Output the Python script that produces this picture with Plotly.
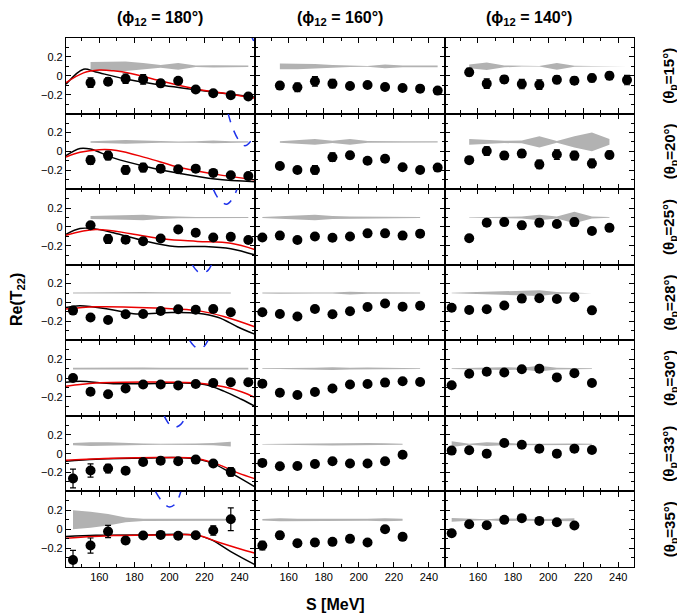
import plotly.graph_objects as go
from plotly.subplots import make_subplots

# energies S [MeV] used by the panels
s_155_245 = [155, 165, 175, 185, 195, 205, 215, 225, 235, 245]
s_145_235 = [145, 155, 165, 175, 185, 195, 205, 215, 225, 235]
s_145_245 = [145, 155, 165, 175, 185, 195, 205, 215, 225, 235, 245]
s_145_225 = [145, 155, 165, 175, 185, 195, 205, 215, 225]
s_155_235 = [155, 165, 175, 185, 195, 205, 215, 225, 235]
s_145_215 = [145, 155, 165, 175, 185, 195, 205, 215]

phi_12 = [180, 160, 140]
theta_p = [15, 20, 25, 28, 30, 33, 35]
band_center = 0.1

# ---- phi12 = 180 ----
s_180 = [s_155_245, s_155_245, s_155_245, s_145_235, s_145_245, s_145_235, s_145_235]
re_180 = [
    [-0.073, -0.063, -0.031, -0.038, -0.08, -0.052, -0.146, -0.184, -0.205, -0.219],
    [-0.093, -0.045, -0.197, -0.172, -0.183, -0.19, -0.183, -0.228, -0.252, -0.262],
    [0.017, -0.129, -0.135, -0.152, -0.122, -0.027, -0.061, -0.112, -0.105, -0.139],
    [-0.086, -0.159, -0.186, -0.124, -0.121, -0.09, -0.072, -0.076, -0.069, -0.103],
    [0.0, -0.145, -0.172, -0.11, -0.069, -0.069, -0.079, -0.062, -0.052, -0.045, -0.045],
    [-0.263, -0.179, -0.158, -0.182, -0.088, -0.074, -0.081, -0.063, -0.105, -0.193],
    [-0.325, -0.173, -0.025, -0.12, -0.067, -0.06, -0.07, -0.064, -0.014, 0.106],
]
err_180 = [
    [0.05, 0.04, 0.05, 0.05, 0.035, 0.02, 0.02, 0.02, 0.02, 0.02],
    [0.045, 0.045, 0.045, 0.045, 0.04, 0.02, 0.02, 0.02, 0.02, 0.02],
    [0.025, 0.045, 0.04, 0.03, 0.03, 0.02, 0.02, 0.02, 0.02, 0.02],
    [0.035, 0.03, 0.03, 0.02, 0.02, 0.02, 0.02, 0.02, 0.02, 0.02],
    [0.035, 0.025, 0.02, 0.02, 0.02, 0.02, 0.02, 0.02, 0.02, 0.02, 0.02],
    [0.1, 0.07, 0.045, 0.02, 0.02, 0.02, 0.02, 0.02, 0.02, 0.045],
    [0.1, 0.08, 0.065, 0.035, 0.02, 0.02, 0.02, 0.02, 0.05, 0.12],
]
band_180 = [
    [0.045, 0.05, 0.05, 0.035, 0.015, 0.035, 0.008, 0.012, 0.012, 0.008],
    [0.008, 0.015, 0.02, 0.015, 0.008, 0.005, 0.008, 0.015, 0.008, 0.006],
    [0.015, 0.02, 0.025, 0.03, 0.015, 0.008, 0.006, 0.006, 0.006, 0.006],
    [0.005, 0.008, 0.006, 0.008, 0.012, 0.008, 0.006, 0.005, 0.005, 0.005],
    [0.008, 0.01, 0.01, 0.01, 0.012, 0.01, 0.008, 0.008, 0.008, 0.008, 0.008],
    [0.012, 0.02, 0.02, 0.012, 0.008, 0.006, 0.004, 0.008, 0.012, 0.025],
    [0.1, 0.085, 0.06, 0.025, 0.012, 0.012, 0.015, 0.012, 0.01, 0.01],
]

# ---- phi12 = 160 ----
s_160 = [s_155_245, s_155_245, s_145_235, s_145_235, s_145_235, s_145_225, s_145_225]
re_160 = [
    [-0.104, -0.122, -0.059, -0.083, -0.108, -0.097, -0.118, -0.129, -0.136, -0.157],
    [-0.155, -0.197, -0.197, -0.062, -0.041, -0.1, -0.079, -0.169, -0.197, -0.172],
    [-0.112, -0.092, -0.139, -0.102, -0.115, -0.102, -0.068, -0.068, -0.092, -0.071],
    [-0.103, -0.121, -0.148, -0.069, -0.124, -0.093, -0.048, -0.01, -0.045, -0.034],
    [-0.059, -0.155, -0.179, -0.148, -0.11, -0.069, -0.062, -0.048, -0.034, -0.041],
    [-0.098, -0.133, -0.13, -0.109, -0.081, -0.105, -0.105, -0.081, -0.011],
    [-0.173, -0.064, -0.148, -0.141, -0.134, -0.102, -0.141, 0.0, -0.081],
]
err_160 = [
    [0.035, 0.045, 0.05, 0.045, 0.035, 0.02, 0.02, 0.02, 0.02, 0.02],
    [0.035, 0.03, 0.045, 0.045, 0.035, 0.03, 0.02, 0.02, 0.02, 0.02],
    [0.025, 0.02, 0.025, 0.025, 0.02, 0.02, 0.02, 0.02, 0.02, 0.02],
    [0.02, 0.02, 0.02, 0.02, 0.02, 0.02, 0.02, 0.02, 0.02, 0.02],
    [0.02, 0.02, 0.02, 0.02, 0.02, 0.02, 0.02, 0.02, 0.02, 0.02],
    [0.035, 0.03, 0.02, 0.02, 0.02, 0.02, 0.02, 0.02, 0.02],
    [0.045, 0.04, 0.035, 0.035, 0.02, 0.02, 0.02, 0.02, 0.035],
]
band_160 = [
    [0.03, 0.03, 0.025, 0.015, 0.008, 0.004, 0.02, 0.01, 0.01, 0.01],
    [0.008, 0.015, 0.03, 0.012, 0.03, 0.01, 0.006, 0.006, 0.006, 0.006],
    [0.005, 0.01, 0.02, 0.03, 0.015, 0.01, 0.008, 0.008, 0.006, 0.005],
    [0.006, 0.008, 0.01, 0.006, 0.005, 0.015, 0.008, 0.006, 0.005, 0.005],
    [0.005, 0.005, 0.006, 0.01, 0.015, 0.008, 0.012, 0.008, 0.005, 0.005],
    [0.003, 0.005, 0.008, 0.012, 0.015, 0.015, 0.012, 0.01, 0.006],
    [0.008, 0.015, 0.012, 0.01, 0.015, 0.012, 0.01, 0.015, 0.01],
]

# ---- phi12 = 140 ----
s_140 = [s_155_245, s_155_235, s_155_235, s_145_225, s_145_225, s_145_225, s_145_215]
re_140 = [
    [0.038, -0.083, -0.038, -0.087, -0.094, -0.042, -0.052, -0.024, 0.0, -0.045],
    [-0.093, 0.003, -0.045, -0.024, -0.138, -0.034, -0.045, -0.128, -0.038],
    [-0.119, 0.044, 0.051, 0.017, 0.044, 0.031, 0.051, -0.044, -0.01],
    [-0.055, -0.079, -0.072, -0.031, 0.041, 0.045, 0.038, 0.055, -0.083],
    [-0.076, 0.045, 0.066, 0.059, 0.093, 0.1, 0.007, 0.052, -0.052],
    [0.032, 0.035, 0.0, 0.112, 0.095, 0.053, 0.0, 0.053, 0.039],
    [-0.042, 0.053, 0.042, 0.099, 0.117, 0.088, 0.074, 0.039],
]
err_140 = [
    [0.04, 0.05, 0.04, 0.05, 0.05, 0.04, 0.04, 0.04, 0.04, 0.05],
    [0.03, 0.045, 0.04, 0.04, 0.045, 0.05, 0.045, 0.045, 0.04],
    [0.025, 0.035, 0.03, 0.04, 0.04, 0.03, 0.04, 0.03, 0.03],
    [0.025, 0.02, 0.025, 0.025, 0.025, 0.02, 0.02, 0.02, 0.02],
    [0.02, 0.02, 0.025, 0.025, 0.02, 0.02, 0.02, 0.02, 0.02],
    [0.02, 0.025, 0.02, 0.025, 0.02, 0.02, 0.02, 0.02, 0.025],
    [0.02, 0.02, 0.02, 0.02, 0.02, 0.02, 0.02, 0.02],
]
band_140 = [
    [0.02, 0.04, 0.01, 0.003, 0.003, 0.035, 0.005, 0.003, 0.003, 0.003],
    [0.03, 0.02, 0.012, 0.015, 0.06, 0.01, 0.06, 0.1, 0.03],
    [0.003, 0.003, 0.005, 0.01, 0.03, 0.01, 0.06, 0.01, 0.004],
    [0.003, 0.008, 0.012, 0.018, 0.025, 0.03, 0.01, 0.006, 0.003],
    [0.005, 0.008, 0.012, 0.015, 0.01, 0.03, 0.01, 0.006, 0.004],
    [0.03, 0.005, 0.02, 0.01, 0.006, 0.005, 0.008, 0.008, 0.006],
    [0.02, 0.01, 0.005, 0.015, 0.01, 0.008, 0.012, 0.015],
]

# ---- calculations (phi12 = 180 only) ----
black_s = [
    [141, 151, 158, 178, 197, 216, 235, 249],
    [141, 149, 155, 168, 187, 206, 226, 249],
    [141, 149, 156, 168, 187, 203, 220, 235, 249],
    [141, 149, 168, 181, 201, 216, 228, 239, 249],
    [141, 149, 168, 187, 206, 220, 231, 241, 249],
    [141, 158, 187, 212, 224, 235, 249],
    [141, 158, 187, 214, 224, 235, 249],
]
black_re = [
    [-0.09, 0.07, 0.04, -0.045, -0.104, -0.15, -0.195, -0.226],
    [-0.045, 0.031, 0.024, -0.069, -0.162, -0.234, -0.293, -0.321],
    [-0.078, -0.017, -0.017, -0.061, -0.153, -0.207, -0.207, -0.23, -0.298],
    [-0.052, -0.034, -0.079, -0.121, -0.107, -0.114, -0.159, -0.259, -0.338],
    [-0.045, -0.034, -0.059, -0.059, -0.052, -0.069, -0.138, -0.224, -0.3],
    [-0.081, -0.06, -0.046, -0.049, -0.098, -0.204, -0.354],
    [-0.078, -0.064, -0.06, -0.06, -0.113, -0.237, -0.378],
]
red_s = [
    [141, 151, 160, 168, 178, 197, 216, 235, 249],
    [141, 149, 160, 170, 187, 206, 226, 249],
    [141, 158, 178, 197, 216, 235, 249],
    [141, 158, 197, 216, 231, 249],
    [141, 158, 187, 216, 231, 241, 249],
    [141, 168, 197, 216, 228, 239, 249],
    [141, 168, 197, 216, 228, 239, 249],
]
red_re = [
    [-0.073, 0.031, 0.06, 0.052, 0.024, -0.063, -0.143, -0.195, -0.237],
    [-0.059, -0.01, 0.017, 0.01, -0.069, -0.172, -0.241, -0.303],
    [-0.088, -0.027, -0.071, -0.129, -0.153, -0.173, -0.241],
    [-0.069, -0.045, -0.062, -0.086, -0.148, -0.259],
    [-0.086, -0.052, -0.041, -0.052, -0.093, -0.145, -0.207],
    [-0.07, -0.049, -0.042, -0.053, -0.116, -0.204, -0.267],
    [-0.095, -0.067, -0.06, -0.064, -0.138, -0.201, -0.254],
]
blue_s = [
    [246, 247.5, 249],
    [233.5, 236, 239.5, 243, 246, 249.5],
    [225, 228, 232.5, 236, 238.5],
    [213, 216, 219, 222, 224],
    [211.5, 214, 217, 220, 222],
    [197, 200, 203, 206.5, 209.5],
    [192, 196, 200, 203.5, 206.5],
]
blue_re = [
    [0.45, 0.39, 0.33],
    [0.4, 0.25, 0.12, 0.06, 0.1, 0.24],
    [0.4, 0.3, 0.24, 0.3, 0.4],
    [0.4, 0.33, 0.31, 0.34, 0.4],
    [0.4, 0.34, 0.31, 0.34, 0.4],
    [0.4, 0.31, 0.28, 0.31, 0.4],
    [0.4, 0.29, 0.235, 0.27, 0.4],
]

font = 'Liberation Sans, Arial, sans-serif'
band_color = 'rgb(178,178,178)'

# the page body adds an 8px margin, so the figure is laid out 8px up/left
off = 8
W, H = 685 - off, 615 - off
ml, mr, mt, mb = 66 - off, 51, 38 - off, 48
pw, ph = W - ml - mr, H - mt - mb


def px_x(px):
    # page pixel -> paper coordinate
    return (px - off - ml) / pw


def px_y(py):
    return (H - mb - (py - off)) / ph


fig = make_subplots(rows=7, cols=3, horizontal_spacing=0, vertical_spacing=0)

columns = [
    (s_180, re_180, err_180, band_180),
    (s_160, re_160, err_160, band_160),
    (s_140, re_140, err_140, band_140),
]

for c, (s_col, re_col, err_col, band_col) in enumerate(columns):
    for r in range(7):
        s = s_col[r]
        upper = [band_center + h for h in band_col[r]]
        lower = [band_center - h for h in band_col[r]]
        fig.add_trace(go.Scatter(x=s + s[::-1], y=upper + lower[::-1],
                                 fill='toself', fillcolor=band_color,
                                 line=dict(width=0, color=band_color),
                                 mode='lines', hoverinfo='skip'),
                      row=r + 1, col=c + 1)
        if c == 0:
            fig.add_trace(go.Scatter(x=blue_s[r], y=blue_re[r], mode='lines',
                                     line=dict(color='rgb(30,50,235)', dash='dash',
                                               width=1.5, shape='spline')),
                          row=r + 1, col=1)
            fig.add_trace(go.Scatter(x=black_s[r], y=black_re[r], mode='lines',
                                     line=dict(color='black', width=1.5, shape='spline')),
                          row=r + 1, col=1)
            fig.add_trace(go.Scatter(x=red_s[r], y=red_re[r], mode='lines',
                                     line=dict(color='rgb(235,0,0)', width=1.5, shape='spline')),
                          row=r + 1, col=1)
        fig.add_trace(go.Scatter(x=s, y=re_col[r], mode='markers',
                                 marker=dict(size=10, color='black'),
                                 error_y=dict(type='data', array=err_col[r], color='black',
                                              thickness=1.2, width=3)),
                      row=r + 1, col=c + 1)

axis_common = dict(showline=True, linecolor='black', linewidth=1.2, mirror='ticks',
                   ticks='inside', ticklen=5, tickwidth=1.2, tickcolor='black',
                   showgrid=False, zeroline=False,
                   tickfont=dict(family=font, size=11, color='black'))

fig.update_xaxes(range=[141, 249], tickvals=[160, 180, 200, 220, 240],
                 minor=dict(ticks='inside', tickvals=[150, 170, 190, 210, 230],
                            ticklen=3, tickcolor='black', tickwidth=1),
                 showticklabels=False, **axis_common)
fig.update_xaxes(showticklabels=True, row=7)
fig.update_yaxes(range=[-0.4, 0.4], tickvals=[-0.2, 0, 0.2],
                 minor=dict(ticks='inside', tickvals=[-0.3, -0.1, 0.1, 0.3],
                            ticklen=3, tickcolor='black', tickwidth=1),
                 showticklabels=False, **axis_common)
fig.update_yaxes(showticklabels=True, col=1)

annotations = []
for c, phi in enumerate(phi_12):
    annotations.append(dict(text='<b>(\u03d5<sub>12</sub> = %d\u00b0)</b>' % phi,
                            x=px_x([160, 340, 529][c]), y=px_y(18),
                            xref='paper', yref='paper', showarrow=False,
                            xanchor='center', yanchor='middle',
                            font=dict(family=font, size=16, color='black')))
for r, th in enumerate(theta_p):
    annotations.append(dict(text='<b>(\u03b8<sub>p</sub>=%d\u00b0)</b>' % th,
                            x=px_x(670), y=1 - (r + 0.5) / 7,
                            xref='paper', yref='paper', showarrow=False, textangle=-90,
                            xanchor='center', yanchor='middle',
                            font=dict(family=font, size=15, color='black')))
annotations.append(dict(text='<b>Re(T<sub>22</sub>)</b>', x=px_x(17), y=px_y(300),
                        xref='paper', yref='paper', showarrow=False, textangle=-90,
                        xanchor='center', yanchor='middle',
                        font=dict(family=font, size=16, color='black')))
annotations.append(dict(text='<b>S [MeV]</b>', x=px_x(335), y=px_y(604),
                        xref='paper', yref='paper', showarrow=False,
                        xanchor='center', yanchor='middle',
                        font=dict(family=font, size=16, color='black')))

fig.update_layout(width=W, height=H, margin=dict(l=ml, r=mr, t=mt, b=mb),
                  plot_bgcolor='white', paper_bgcolor='white', showlegend=False,
                  annotations=annotations)

fig.write_html("out.html")
